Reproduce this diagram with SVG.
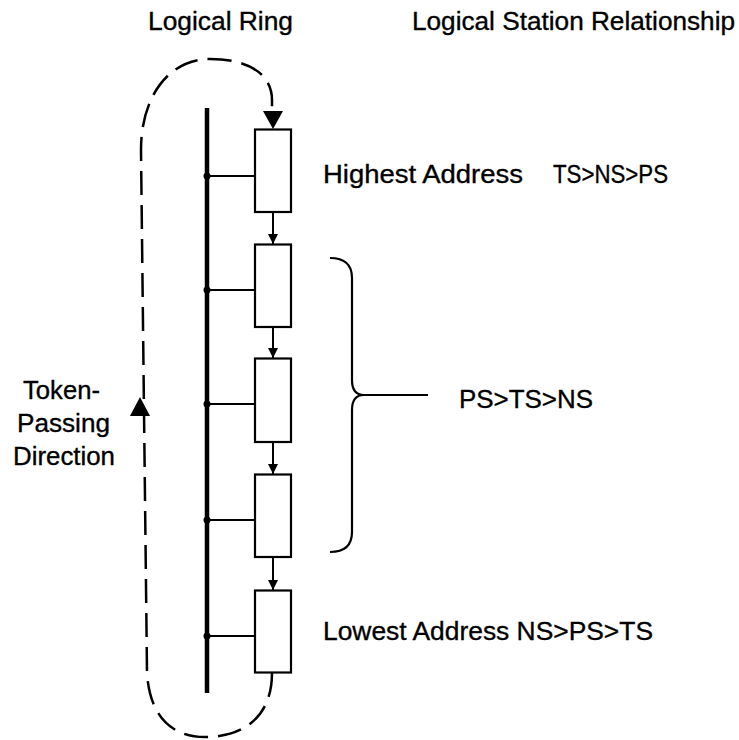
<svg xmlns="http://www.w3.org/2000/svg" width="739" height="740" viewBox="0 0 739 740">
  <style>
    text { font-family: "Liberation Sans", Arial, sans-serif; font-size: 26px; fill: #000; stroke: #000; stroke-width: 0.35; }
    .station { fill: #fff; stroke: #000; stroke-width: 2.2; }
    .stub { stroke: #000; stroke-width: 2; fill: none; }
    .link { stroke: #000; stroke-width: 2; fill: none; }
    .ring { stroke: #000; stroke-width: 2.5; fill: none; stroke-dasharray: 24 10; }
    .brace { stroke: #000; stroke-width: 2.2; fill: none; }
  </style>
  <defs>
    <marker id="arrowSmall" viewBox="0 0 10 11" refX="10" refY="5" markerWidth="10" markerHeight="11" markerUnits="userSpaceOnUse" orient="auto">
      <path d="M0,0 L10,5 L0,10 Z" fill="#000"/>
    </marker>
  </defs>

  <rect width="739" height="740" fill="#fff"/>

  <!-- column headings -->
  <text x="148" y="30" textLength="145" lengthAdjust="spacingAndGlyphs">Logical Ring</text>
  <text x="412" y="30" textLength="323" lengthAdjust="spacingAndGlyphs">Logical Station Relationship</text>

  <!-- shared bus -->
  <g id="bus">
    <line x1="207" y1="108" x2="207" y2="693" stroke="#000" stroke-width="4.5"/>
  </g>

  <!-- stations on the ring -->
  <g id="station1">
    <line class="stub" x1="207" y1="176" x2="255" y2="176"/>
    <circle cx="207" cy="176" r="3.5"/>
    <rect class="station" x="255" y="129.5" width="36" height="82.5"/>
  </g>
  <g id="station2">
    <line class="stub" x1="207" y1="290" x2="255" y2="290"/>
    <circle cx="207" cy="290" r="3.5"/>
    <rect class="station" x="255" y="244.5" width="36" height="82.5"/>
  </g>
  <g id="station3">
    <line class="stub" x1="207" y1="404" x2="255" y2="404"/>
    <circle cx="207" cy="404" r="3.5"/>
    <rect class="station" x="255" y="358.5" width="36" height="83.5"/>
  </g>
  <g id="station4">
    <line class="stub" x1="207" y1="520" x2="255" y2="520"/>
    <circle cx="207" cy="520" r="3.5"/>
    <rect class="station" x="255" y="474.5" width="36" height="82.5"/>
  </g>
  <g id="station5">
    <line class="stub" x1="207" y1="636" x2="255" y2="636"/>
    <circle cx="207" cy="636" r="3.5"/>
    <rect class="station" x="255" y="590.5" width="36" height="82"/>
  </g>

  <!-- connectors -->
  <g id="connectors">
    <line class="link" x1="273" y1="213" x2="273" y2="244" marker-end="url(#arrowSmall)"/>
    <line class="link" x1="273" y1="328" x2="273" y2="358" marker-end="url(#arrowSmall)"/>
    <line class="link" x1="273" y1="443" x2="273" y2="474" marker-end="url(#arrowSmall)"/>
    <line class="link" x1="273" y1="558" x2="273" y2="590" marker-end="url(#arrowSmall)"/>

    <!-- token-passing ring (dashed loop) -->
    <path class="ring" d="M272,673 C272,718 242,737 205,737 C168,737 149,712 147,672 L141,150 C141,95 170,59 210,59 C250,59 272,75 272,100 L272,112"/>
    <path d="M263,111 L283,111 L273,129 Z" fill="#000"/>
    <!-- direction arrow on the left side of the ring -->
    <path d="M140,397 L150,416 L130,416 Z" fill="#000"/>
  </g>

  <!-- grouping brace -->
  <g id="brace">
    <path class="brace" d="M330,258 Q352,258 352,278 L352,380 Q352,395 364,395 Q352,395 352,410 L352,532 Q352,552 330,552"/>
    <line class="brace" x1="362" y1="395" x2="428" y2="395"/>
  </g>

  <!-- relationship labels -->
  <g id="label-highest">
    <text y="183"><tspan x="323" textLength="200" lengthAdjust="spacingAndGlyphs">Highest Address</tspan><tspan x="553" textLength="115" lengthAdjust="spacingAndGlyphs">TS&gt;NS&gt;PS</tspan></text>
  </g>
  <g id="label-middle">
    <text x="459" y="408" textLength="134" lengthAdjust="spacingAndGlyphs">PS&gt;TS&gt;NS</text>
  </g>
  <g id="label-lowest">
    <text x="323" y="640" textLength="330" lengthAdjust="spacingAndGlyphs">Lowest Address NS&gt;PS&gt;TS</text>
  </g>
  <g id="label-direction">
    <text x="23" y="399" textLength="77" lengthAdjust="spacingAndGlyphs">Token-</text>
    <text x="17" y="432" textLength="93" lengthAdjust="spacingAndGlyphs">Passing</text>
    <text x="13" y="465" textLength="102" lengthAdjust="spacingAndGlyphs">Direction</text>
  </g>
</svg>
